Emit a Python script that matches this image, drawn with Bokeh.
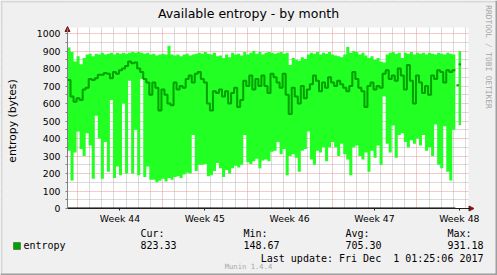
import numpy as np
from bokeh.plotting import figure
from bokeh.models import (Range1d, FixedTicker, Grid, Label, Arrow, NormalHead,
                          BoxAnnotation, ColumnDataSource)
from bokeh.embed import file_html
from bokeh.resources import INLINE

# ---------------- data ----------------
STEP_DAYS = 0.25  # one column = 6 hours

entropy_max = [
    920, 895, 840, 870, 825, 860, 880, 885, 870, 885,
    880, 890, 880, 885, 890, 880, 890, 885, 890, 885,
    890, 895, 890, 895, 890, 885, 890, 880, 885, 875,
    880, 885, 880, 930, 880, 875, 880, 870, 880, 885,
    875, 880, 885, 890, 885, 895, 885, 880, 890, 870,
    875, 860, 880, 865, 890, 880, 885, 875, 895, 880,
    890, 900, 885, 895, 880, 890, 895, 890, 885, 890,
    895, 885, 890, 820, 860, 850, 845, 865, 855, 880,
    890, 885, 895, 880, 890, 885, 895, 880, 875, 870,
    865, 880, 925, 890, 900, 895, 880, 890, 875, 860,
    870, 850, 860, 840, 835, 880, 890, 895, 885, 890,
    860, 890, 885, 895, 880, 890, 885, 890, 880, 890,
    885, 880, 890, 885, 880, 890, 885, 880,
]
entropy_avg = [
    735, 640, 610, 630, 620, 680, 690, 740, 735, 745,
    765, 765, 775, 770, 745, 780, 770, 790, 800, 815,
    840, 830, 835, 800, 780, 740, 720, 650, 720, 690,
    560, 680, 650, 600, 590, 720, 680, 700, 690, 740,
    760, 720, 770, 780, 740, 720, 600, 560, 670, 660,
    680, 640, 670, 600, 660, 690, 580, 620, 730, 700,
    760, 680, 740, 700, 760, 700, 660, 770, 750, 720,
    690, 770, 650, 540, 690, 640, 600, 700, 630, 680,
    710, 760, 730, 670, 720, 690, 750, 720, 700, 730,
    710, 690, 670, 700, 780, 740, 690, 670, 580, 700,
    720, 680, 700, 690, 770, 790, 740, 760, 730, 800,
    760, 680, 820, 730, 600, 760, 720, 660, 700, 650,
    760, 740, 790, 780, 720, 790, 780, 790,
]
entropy_min = [
    330, 160, 320, 440, 340, 300, 430, 360, 170, 530,
    400, 170, 380, 210, 620, 175, 240, 190, 600, 200,
    730, 200, 450, 190, 740, 180, 240, 165, 165, 150,
    158, 170, 155, 175, 165, 180, 185, 175, 195, 205,
    200, 420, 215, 250, 250, 255, 185, 190, 215, 260,
    230, 180, 220, 200, 230, 245, 235, 250, 420, 265,
    255, 270, 285, 230, 275, 280, 270, 325, 330, 380,
    310, 340, 190, 300, 310, 290, 210, 330, 340, 440,
    280, 250, 330, 320, 350, 270, 350, 380, 350, 300,
    370, 310, 280, 190, 350, 360, 300, 280, 320, 210,
    330, 290, 360, 250, 640, 370, 320, 475, 290, 420,
    430, 380, 350, 390, 370, 400, 360, 420, 330, 350,
    300, 480, 250, 230, 470, 210, 160, 450,
]
# last isolated samples after the gap
tail_day = [32.09, 32.27]
tail_avg = [705, 825]
tail_min = [np.nan, 476]
tail_max = [np.nan, 900]

week_tick_days = [4.33, 11.33, 18.33, 25.33, 32.33]
week_labels = ["Week 44", "Week 45", "Week 46", "Week 47", "Week 48"]
week_start_days = [0.83, 7.83, 14.83, 21.83, 28.83]
day_line_days = [0.83 + k for k in range(33)]
y_ticks = [0, 100, 200, 300, 400, 500, 600, 700, 800, 900, 1000]
y_half_ticks = [50, 150, 250, 350, 450, 550, 650, 750, 850, 950]

stat_names = ["Cur:", "Min:", "Avg:", "Max:"]
stat_values = ["823.33", "148.67", "705.30", "931.18"]

# ---------------- layout (pixel geometry of the page) ----------------
W, H = 497, 275
CL, CR, CT, CB = 67, 468, 27, 208     # white canvas edges (px)
PXD = 12.12                           # px per day
PXV = 0.175                           # px per byte of entropy


def dx(px):
    return (px - CL) / PXD


def vy(py):
    return (CB - py) / PXV


X0, X1 = dx(0), dx(W)
Y0, Y1 = vy(H), vy(0)

p = figure(width=W, height=H, output_backend="svg", toolbar_location=None,
           title=None, x_range=Range1d(X0, X1), y_range=Range1d(Y0, Y1),
           min_border=0, min_border_left=0, min_border_right=0,
           min_border_top=0, min_border_bottom=0)
p.outline_line_color = None
p.background_fill_color = "white"
p.border_fill_color = "#F0F0F0"

# grids (drawn under the data)
p.grid.visible = False
grid_minor = "#B4B4B4"
grid_major = "#E99595"
p.add_layout(Grid(dimension=0, ticker=FixedTicker(ticks=[d for d in day_line_days if d not in week_start_days]),
                  grid_line_color=grid_minor, grid_line_dash="1 1"))
p.add_layout(Grid(dimension=1, ticker=FixedTicker(ticks=y_half_ticks),
                  grid_line_color=grid_minor, grid_line_dash="1 1"))
p.add_layout(Grid(dimension=0, ticker=FixedTicker(ticks=week_start_days),
                  grid_line_color=grid_major, grid_line_dash="1 1"))
p.add_layout(Grid(dimension=1, ticker=FixedTicker(ticks=y_ticks[1:]),
                  grid_line_color=grid_major, grid_line_dash="1 1"))

# data
n = len(entropy_avg)
day = [i * STEP_DAYS for i in range(n + 1)]
src = ColumnDataSource(dict(day=day,
                            lo=entropy_min + [entropy_min[-1]],
                            hi=entropy_max + [entropy_max[-1]],
                            avg=entropy_avg + [entropy_avg[-1]]))
p.varea_step(x="day", y1="lo", y2="hi", step_mode="after", source=src,
             fill_color="#22FF22")
p.step(x="day", y="avg", mode="after", source=src, line_color="#00A000", line_width=2)

tail = ColumnDataSource(dict(left=tail_day, right=[d + 0.2 for d in tail_day],
                             lo=tail_min, hi=tail_max, avg=tail_avg))
p.quad(left="left", right="right", bottom="lo", top="hi", source=tail,
       fill_color="#22FF22", line_color=None)
p.segment(x0="left", x1="right", y0="avg", y1="avg", source=tail,
          line_color="#00A000", line_width=2)
p.line(x=[day[0], day[-1]], y=[0, 0], line_color="black", line_width=2)

# grey surround of the white canvas + outer shading
BG = "#F0F0F0"
for kw in (dict(left=X0, right=dx(CL), bottom=Y0, top=Y1),
           dict(left=dx(CR), right=X1, bottom=Y0, top=Y1),
           dict(left=X0, right=X1, bottom=vy(CT), top=Y1),
           dict(left=X0, right=X1, bottom=Y0, top=vy(CB))):
    p.add_layout(BoxAnnotation(fill_color=BG, fill_alpha=1.0, line_color=None, **kw))
for kw, col in ((dict(left=X0, right=X1, bottom=vy(2), top=Y1), "#D8D8D8"),
                (dict(left=X0, right=dx(2), bottom=Y0, top=Y1), "#D8D8D8"),
                (dict(left=dx(W - 2), right=X1, bottom=Y0, top=Y1), "#9E9E9E"),
                (dict(left=X0, right=X1, bottom=Y0, top=vy(H - 2)), "#9E9E9E")):
    p.add_layout(BoxAnnotation(fill_color=col, fill_alpha=1.0, line_color=None, **kw))

# axes, fixed onto the canvas edges
p.xaxis.fixed_location = 0
p.xaxis.bounds = (0, dx(470))
p.xaxis.level = "overlay"
p.xaxis.ticker = FixedTicker(ticks=week_tick_days)
p.xaxis.major_label_overrides = {d: s for d, s in zip(week_tick_days, week_labels)}
p.xaxis.axis_line_color = "#1F1F1F"
p.xaxis.major_tick_in = 0
p.xaxis.major_tick_out = 2
p.xaxis.minor_tick_in = 0
p.xaxis.minor_tick_out = 0
p.xaxis.major_tick_line_color = "#1F1F1F"
p.xaxis.major_label_standoff = 2
p.xaxis.major_label_text_font = "DejaVu Sans"
p.xaxis.major_label_text_font_size = "9.3px"
p.xaxis.major_label_text_color = "black"

p.yaxis.fixed_location = 0
p.yaxis.bounds = (0, vy(28))
p.yaxis.level = "overlay"
p.yaxis.ticker = FixedTicker(ticks=y_ticks, minor_ticks=y_half_ticks)
p.yaxis.axis_line_color = "#808080"
p.yaxis.major_tick_in = 0
p.yaxis.major_tick_out = 2
p.yaxis.minor_tick_in = 0
p.yaxis.minor_tick_out = 2
p.yaxis.major_tick_line_color = "#808080"
p.yaxis.minor_tick_line_color = "#808080"
p.yaxis.major_label_standoff = 5
p.yaxis.major_label_text_font = "DejaVu Sans"
p.yaxis.major_label_text_font_size = "9.3px"
p.yaxis.major_label_text_color = "black"

# arrows
ARROW = "#7F1A1A"
p.add_layout(Arrow(x_start=0, y_start=vy(32), x_end=0, y_end=vy(26), line_alpha=0,
                   end=NormalHead(size=5, fill_color=ARROW, line_color=ARROW)))
p.add_layout(Arrow(x_start=dx(466), y_start=0, x_end=dx(473.5), y_end=0, line_alpha=0,
                   end=NormalHead(size=5, fill_color=ARROW, line_color=ARROW)))


# texts
def lab(px, py, text, size, font="DejaVu Sans", align="left", color="black", angle=0.0):
    p.add_layout(Label(x=dx(px), y=vy(py), text=text, text_font=font,
                       text_font_size=size, text_align=align, text_baseline="middle",
                       text_color=color, angle=angle))


lab(248, 13, "Available entropy - by month", "12.5px", align="center")
lab(11.5, 120.5, "entropy (bytes)", "10.8px", align="center", angle=np.pi / 2)
lab(488, 56.5, "RRDTOOL / TOBI OETIKER", "7.8px", font="DejaVu Sans Mono",
    align="center", color="#A4A4A4", angle=-np.pi / 2)

MONO = "DejaVu Sans Mono"
p.add_layout(BoxAnnotation(left=dx(13), right=dx(20), top=vy(242), bottom=vy(249),
                           fill_color="#00A000", fill_alpha=1.0,
                           line_color="black", line_width=1))
lab(23, 244.5, "entropy", "10px", font=MONO)
for xpx, nm, val in zip([140, 243, 345, 447], stat_names, stat_values):
    lab(xpx, 233, nm, "10px", font=MONO)
    lab(xpx, 244.5, val, "10px", font=MONO)
lab(483, 257.5, "Last update: Fri Dec \u00a01 01:25:06 2017", "10px", font=MONO, align="right")
lab(248, 266, "Munin 1.4.4", "7.2px", font=MONO, align="center", color="#A8A8A8")

open("out.html", "w").write(file_html(p, INLINE))
